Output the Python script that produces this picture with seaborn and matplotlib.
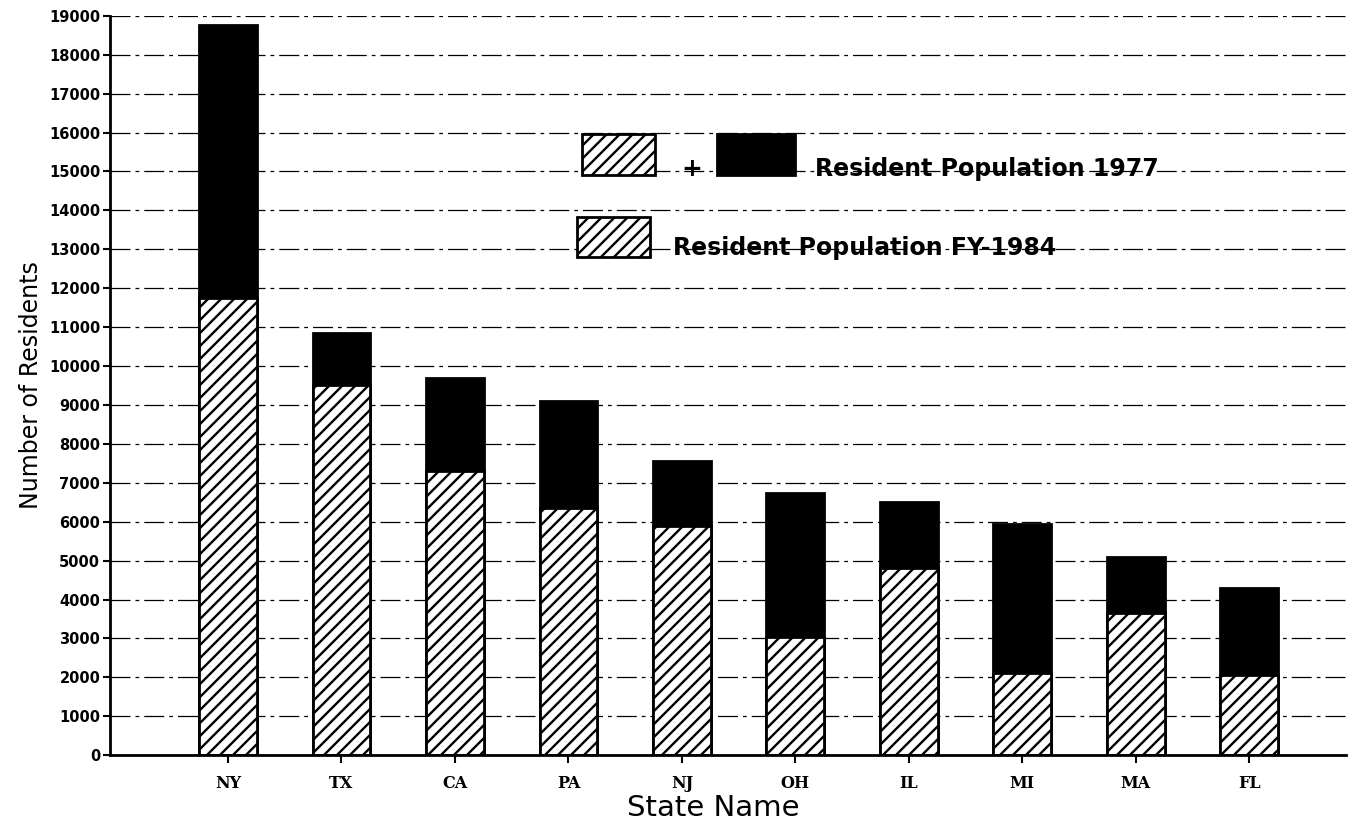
import matplotlib
matplotlib.use("Agg")
import matplotlib.pyplot as plt
import pandas as pd
import seaborn as sns
from matplotlib.patches import Rectangle

states = ["NY", "TX", "CA", "PA", "NJ", "OH", "IL", "MI", "MA", "FL"]
pop_1977 = [18750, 10850, 9700, 9100, 7550, 6750, 6500, 5950, 5100, 4300]
pop_1984 = [11750, 9500, 7300, 6350, 5900, 3050, 4800, 2100, 3650, 2050]
y_ticks = list(range(0, 19001, 1000))

df = pd.DataFrame({"state": states, "total": pop_1977, "fy1984": pop_1984})

# low dpi so the hatch spacing matches the scan; sizes scaled back up
DPI = 78
k = 100 / DPI

sns.set_style("white")
plt.rcParams.update({
    "hatch.linewidth": 1.7 * k,
    "text.color": "black",
    "axes.labelcolor": "black",
    "xtick.color": "black",
    "ytick.color": "black",
})

fig = plt.figure(figsize=(1358 / DPI, 829 / DPI), dpi=DPI)
ax = fig.add_axes([0.081, 0.089, 0.91, 0.892])

# total 1977 bar in black, 1984 part hatched on top of it
sns.barplot(data=df, x="state", y="total", color="black", width=0.51,
            edgecolor="black", linewidth=2 * k, ax=ax)
sns.barplot(data=df, x="state", y="fy1984", color="white", width=0.51,
            edgecolor="black", linewidth=2 * k, hatch="//", ax=ax)
for p in ax.patches[len(states):]:
    p.set_facecolor("white")
    p.set_edgecolor("black")

ax.set_ylim(0, 19000)
ax.set_xlim(-1.04, 9.85)
ax.set_yticks(y_ticks)
ax.set_yticklabels([str(t) for t in y_ticks], fontsize=10.5 * k, fontweight="bold")
ax.set_xticks(range(len(states)))
ax.set_xticklabels(states, fontsize=11.5 * k, fontweight="bold", family="DejaVu Serif")

ax.set_axisbelow(True)
ax.yaxis.grid(True, color="black", linewidth=0.9 * k, linestyle=(0, (16, 4, 3, 4)))
ax.xaxis.grid(False)

for side in ["top", "right"]:
    ax.spines[side].set_visible(False)
for side in ["left", "bottom"]:
    ax.spines[side].set_linewidth(2 * k)
    ax.spines[side].set_color("black")
ax.tick_params(axis="y", direction="out", length=5 * k, width=1.5 * k, left=True, pad=2 * k)
ax.tick_params(axis="x", direction="out", length=6 * k, width=1.5 * k, bottom=True, pad=8 * k)

ax.set_ylabel("Number of Residents", fontsize=17 * k, family="Liberation Sans Narrow",
              labelpad=4 * k)
ax.set_xlabel("State Name", fontsize=21 * k, va="center")
ax.xaxis.set_label_coords(0.488, -0.072)

# hand-drawn style legend
tr = ax.transAxes
ax.add_patch(Rectangle((0.382, 0.785), 0.059, 0.055, transform=tr, facecolor="white",
                       edgecolor="black", hatch="//", linewidth=2 * k, clip_on=False))
ax.text(0.471, 0.793, "+", transform=tr, fontsize=18 * k, fontweight="bold",
        ha="center", va="center")
ax.add_patch(Rectangle((0.491, 0.785), 0.063, 0.055, transform=tr, facecolor="black",
                       edgecolor="black", linewidth=2 * k, clip_on=False))
ax.text(0.5705, 0.793, "Resident Population 1977", transform=tr, fontsize=17 * k,
        fontweight="bold", va="center")
ax.add_patch(Rectangle((0.378, 0.674), 0.059, 0.054, transform=tr, facecolor="white",
                       edgecolor="black", hatch="//", linewidth=2 * k, clip_on=False))
ax.text(0.4556, 0.686, "Resident Population FY-1984", transform=tr, fontsize=17 * k,
        fontweight="bold", va="center")

fig.savefig("out.png", dpi=DPI)
